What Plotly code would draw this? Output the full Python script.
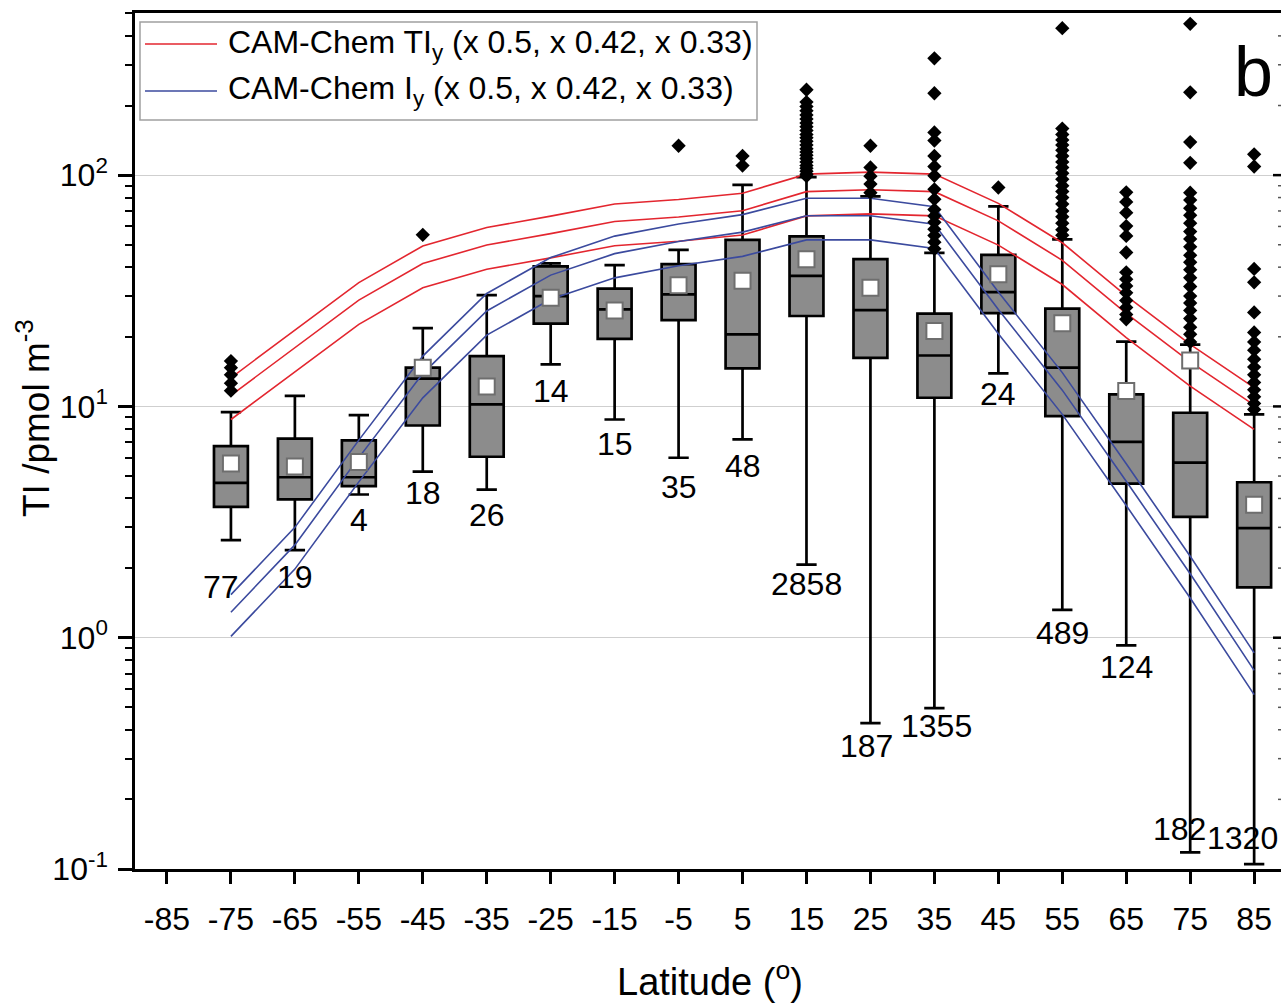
import plotly.graph_objects as go
import numpy as np

# ---------------- data ----------------
lat = [-75, -65, -55, -45, -35, -25, -15, -5, 5, 15, 25, 35, 45, 55, 65, 75, 85]
counts = [77, 19, 4, 18, 26, 14, 15, 35, 48, 2858, 187, 1355, 24, 489, 124, 182, 1320]
whisk_lo = [2.64, 2.39, 4.16, 5.22, 4.37, 15.2, 8.78, 6.0, 7.2, 2.07, 0.427, 0.496, 13.9, 1.32, 0.926, 0.118, 0.105]
q1 = [3.68, 3.96, 4.52, 8.27, 6.06, 22.8, 19.6, 23.6, 14.6, 24.6, 16.2, 10.9, 25.3, 9.08, 4.64, 3.33, 1.65]
median = [4.67, 4.94, 4.94, 13.2, 10.2, 30.0, 26.3, 30.5, 20.5, 36.7, 26.1, 16.6, 31.2, 14.7, 7.03, 5.71, 2.98]
q3 = [6.73, 7.25, 7.13, 14.7, 16.5, 40.3, 32.3, 41.2, 52.5, 54.3, 43.3, 25.2, 45.2, 26.5, 11.27, 9.39, 4.70]
whisk_hi = [9.45, 11.1, 9.17, 21.8, 30.3, 41.5, 40.8, 47.5, 90.8, 98.0, 80.9, 46.1, 73.2, 52.8, 19.05, 18.5, 9.23]
mean = [5.67, 5.5, 5.75, 14.7, 12.2, 29.5, 26.0, 33.4, 34.9, 43.3, 32.6, 21.2, 37.3, 22.9, 11.65, 15.8, 3.76]

outliers = {
    -75: [15.7, 14.7, 13.7, 12.6, 11.7],
    -45: [55.2],
    -5: [134],
    5: [121, 110],
    15: [234, 207, 198, 190, 182, 175, 168, 162, 156, 150, 145, 140, 135, 130, 126, 122,
         118, 114, 110, 107, 104, 101, 99],
    25: [134, 108, 99, 91.5, 84],
    35: [320, 226, 153, 141, 121, 109, 99.4, 86.8, 78.7, 71.0, 66.6, 62.5, 58.4, 54.8, 51.3, 48.0],
    45: [88.4],
    55: [432, 159, 150, 142, 135, 128, 121, 114, 108, 102, 96, 90, 85, 80, 75, 70, 66, 62, 58, 55],
    65: [84.3, 76.6, 68.8, 60.2, 54.6, 46.3, 38.0, 35.5, 33.2, 31.0, 28.7, 26.8, 25.0, 23.8],
    75: [451, 228, 139, 113, 84, 78, 72, 67, 62, 57, 53, 49, 45, 42, 39, 36, 33, 30, 28, 26,
         24, 22, 20.5, 19],
    85: [123, 109, 39.3, 34.4, 25.5, 20.9, 19, 17.5, 16, 14.8, 13.7, 12.7, 11.8, 11, 10.3, 9.7],
}

# CAM-Chem model profiles (unscaled) and scaling factors
TIy = [26.6, 42.7, 68.6, 98.8, 118.7, 133, 150, 157, 167, 202, 206, 202, 151, 102, 60.1, 37.1, 24.1]
Iy = [3.07, 6.0, 14.3, 33, 61.6, 88, 109, 123, 135, 159, 159, 146, 62.5, 28, 11.3, 4.5, 1.72]
factors = [0.5, 0.42, 0.33]

x_ticks = [-85, -75, -65, -55, -45, -35, -25, -15, -5, 5, 15, 25, 35, 45, 55, 65, 75, 85]

# ---------------- layout geometry ----------------
W, H = 1281, 1003
ML, MR, MT, MB = 135, 0, 13, 134
PW, PH = W - ML - MR, H - MT - MB


def pxx(x):
    return (x - ML) / PW


def pxy(y):
    return (H - MB - y) / PH


FONT = "Arial, Liberation Sans, sans-serif"
RED = "#e3262f"
BLUE = "#3b4a9e"
NUM = 32

fig = go.Figure()

fig.add_trace(go.Box(
    x=lat, q1=q1, median=median, q3=q3, lowerfence=whisk_lo, upperfence=whisk_hi,
    boxpoints=False, width=5.3, whiskerwidth=0.6,
    fillcolor="#8c8c8c", line=dict(color="black", width=2.7),
    showlegend=False, hoverinfo="skip",
))

for f in factors:
    fig.add_trace(go.Scatter(x=lat, y=[v * f for v in TIy], mode="lines",
                             line=dict(color=RED, width=1.6), showlegend=False))
for f in factors:
    fig.add_trace(go.Scatter(x=lat, y=[v * f for v in Iy], mode="lines",
                             line=dict(color=BLUE, width=1.6), showlegend=False))

ox, oy = [], []
for k, vals in outliers.items():
    ox += [k] * len(vals)
    oy += vals
fig.add_trace(go.Scatter(x=ox, y=oy, mode="markers",
                         marker=dict(symbol="diamond", size=11, color="black"),
                         showlegend=False))

fig.add_trace(go.Scatter(x=lat, y=mean, mode="markers",
                         marker=dict(symbol="square", size=16, color="white",
                                     line=dict(color="#6e6e6e", width=2)),
                         showlegend=False))

# count labels below the lower whisker (pixel offsets of label centres)
lab_dx = [-10, 0, 0, 0, 0, 0, 0, 0, 0, 0, -4, 2, 0, 0, 0, -11, -12]
lab_dy = [47, 27, 25, 21, 25, 27, 25, 29, 27, 19, 23, 18, 21, 23, 22, -23, -26]
annotations = []
for x, lo, n, dx, dy in zip(lat, whisk_lo, counts, lab_dx, lab_dy):
    annotations.append(dict(x=x, y=np.log10(lo), xref="x", yref="y", text=str(n),
                            showarrow=False, xanchor="center", yanchor="middle",
                            xshift=dx, yshift=-dy, font=dict(size=NUM, color="black", family=FONT)))

# axis titles
annotations.append(dict(x=pxx(710), y=pxy(979), xref="paper", yref="paper",
                        text="Latitude (<sup>o</sup>)", showarrow=False,
                        xanchor="center", yanchor="middle",
                        font=dict(size=38, color="black", family=FONT)))
annotations.append(dict(x=pxx(34), y=pxy(418), xref="paper", yref="paper",
                        text="TI /pmol m<sup>-3</sup>", showarrow=False, textangle=-90,
                        xanchor="center", yanchor="middle",
                        font=dict(size=37, color="black", family=FONT)))
# panel letter
annotations.append(dict(x=pxx(1253), y=pxy(72), xref="paper", yref="paper",
                        text="b", showarrow=False, xanchor="center", yanchor="middle",
                        font=dict(size=70, color="black", family=FONT)))

# manual legend
shapes = [dict(type="rect", xref="paper", yref="paper",
               x0=pxx(140), x1=pxx(757), y0=pxy(22), y1=pxy(120),
               line=dict(color="#a0a0a0", width=1.5), fillcolor="white", layer="above")]
leg = [(RED, 44, "CAM-Chem TI<sub>y</sub> (x 0.5, x 0.42, x 0.33)"),
       (BLUE, 91, "CAM-Chem I<sub>y</sub> (x 0.5, x 0.42, x 0.33)")]
for col, yy, txt in leg:
    shapes.append(dict(type="line", xref="paper", yref="paper",
                       x0=pxx(145), x1=pxx(217), y0=pxy(yy), y1=pxy(yy),
                       line=dict(color=col, width=1.6), layer="above"))
    annotations.append(dict(x=pxx(226), y=pxy(yy), xref="paper", yref="paper",
                            text=txt, showarrow=False, xanchor="left", yanchor="middle",
                            font=dict(size=32, color="black", family=FONT)))

major_vals = [0.1, 1, 10, 100]
minor_vals = [m * 10.0 ** e for e in range(-1, 3) for m in range(2, 10)]

# inward ticks of the (cropped) right-hand axis
for v in major_vals[1:]:
    shapes.append(dict(type="line", xref="paper", yref="y", x0=pxx(1273), x1=1,
                       y0=v, y1=v, line=dict(color="black", width=2.5)))
for v in minor_vals:
    if v < 480:
        shapes.append(dict(type="line", xref="paper", yref="y", x0=pxx(1278), x1=1,
                           y0=v, y1=v, line=dict(color="#555", width=1.5)))

fig.update_layout(
    width=W, height=H,
    margin=dict(l=ML, r=MR, t=MT, b=MB, pad=0),
    paper_bgcolor="white", plot_bgcolor="white",
    font=dict(family=FONT, color="black"),
    showlegend=False,
    annotations=annotations, shapes=shapes,
    xaxis=dict(range=[-90, 89.2], tickmode="array", tickvals=x_ticks,
               ticktext=[str(t) for t in x_ticks],
               ticks="outside", ticklen=12, tickwidth=2.5, tickcolor="black",
               showline=True, linewidth=2.5, linecolor="black", mirror=True,
               showgrid=False, zeroline=False,
               tickfont=dict(size=NUM, family=FONT, color="black"),
               ticklabelstandoff=8),
    yaxis=dict(type="log", range=[-1, 2.701], tickmode="array",
               tickvals=major_vals,
               ticktext=["10<sup>-1</sup>", "10<sup>0</sup>", "10<sup>1</sup>", "10<sup>2</sup>"],
               ticks="outside", ticklen=14, tickwidth=2.5, tickcolor="black",
               minor=dict(tickmode="array", tickvals=minor_vals, ticks="outside",
                          ticklen=7, tickwidth=2, tickcolor="black", showgrid=False),
               showline=True, linewidth=2.5, linecolor="black", mirror=False,
               showgrid=True, gridcolor="#cfcfcf", gridwidth=1, zeroline=False,
               tickfont=dict(size=NUM, family=FONT, color="black"),
               ticklabelstandoff=4),
)

fig.write_html("out.html")
